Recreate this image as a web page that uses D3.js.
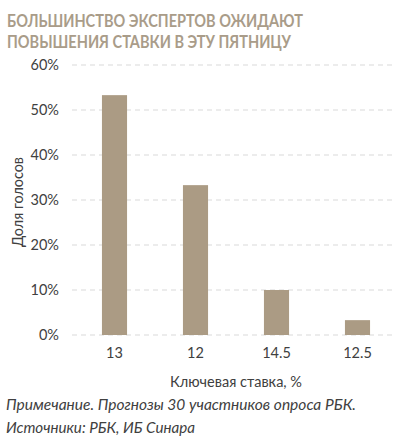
<!DOCTYPE html>
<html><head><meta charset="utf-8">
<script src="https://cdn.jsdelivr.net/npm/d3@7"></script>
<style>body{margin:0;background:#fff}svg{display:block}</style>
</head><body>
<svg id="c" width="394" height="442"></svg>
<script>
const categories = ["13", "12", "14.5", "12.5"];
const values = [53.3, 33.3, 10.0, 3.3];
const yTicks = [0, 10, 20, 30, 40, 50, 60];
const titleLines = ["БОЛЬШИНСТВО ЭКСПЕРТОВ ОЖИДАЮТ", "ПОВЫШЕНИЯ СТАВКИ В ЭТУ ПЯТНИЦУ"];
const notes = ["Примечание. Прогнозы 30 участников опроса РБК.", "Источники: РБК, ИБ Синара"];

const svg = d3.select("#c");
const font = "Lato, 'Open Sans', sans-serif";
const x = d3.scaleBand().domain(categories).range([74, 398]).paddingInner(0.69).paddingOuter(0.345);
const y = d3.scaleLinear().domain([0, 60]).range([335, 65]);

// title
svg.selectAll("text.title").data(titleLines).join("text").attr("class","title")
  .attr("x", 7).attr("y", (d,i)=>27 + i*21)
  .attr("font-family", font).attr("font-weight", 700).attr("font-size", 16.5)
  .attr("fill", "#a99c89")
  .attr("textLength", (d,i)=> i===0 ? 296 : 284).attr("lengthAdjust","spacingAndGlyphs")
  .text(d=>d);

// grid
svg.append("g").selectAll("line").data(yTicks).join("line")
  .attr("x1", 72).attr("x2", 393).attr("y1", d=>y(d)).attr("y2", d=>y(d))
  .attr("stroke", "#d9d9d9").attr("stroke-width", 1).attr("stroke-dasharray", "5,4");

// y axis labels
const yAxis = d3.axisLeft(y).tickValues(yTicks).tickFormat(d=>d+"%").tickSize(0).tickPadding(0);
const gy = svg.append("g").attr("transform","translate(59,0)").call(yAxis);
gy.select(".domain").remove();
gy.selectAll("text").attr("font-family", font).attr("font-size", 14.5).attr("fill", "#404040");

// bars
svg.append("g").selectAll("rect").data(values).join("rect")
  .attr("x", (d,i)=>x(categories[i])).attr("width", x.bandwidth())
  .attr("y", d=>y(d)).attr("height", d=>y(0)-y(d))
  .attr("fill", "#ab9b84");

// x axis
const xAxis = d3.axisBottom(x).tickSize(0).tickPadding(0);
const gx = svg.append("g").attr("transform","translate(0,348)").call(xAxis);
gx.select(".domain").remove();
gx.selectAll("text").attr("font-family", font).attr("font-size", 14.5).attr("fill", "#404040").attr("dy","0.71em");

// axis titles
svg.append("text").attr("x", 236).attr("y", 387).attr("text-anchor","middle")
  .attr("font-family", font).attr("font-size", 14.5).attr("fill", "#404040")
  .attr("textLength", 132).attr("lengthAdjust","spacingAndGlyphs").text("Ключевая ставка, %");
svg.append("text").attr("transform","translate(23,202) rotate(-90)").attr("text-anchor","middle")
  .attr("font-family", font).attr("font-size", 14.5).attr("fill", "#404040")
  .attr("textLength", 90).attr("lengthAdjust","spacingAndGlyphs").text("Доля голосов");

// notes
svg.selectAll("text.note").data(notes).join("text").attr("class","note")
  .attr("x", 6).attr("y", (d,i)=>410 + i*23)
  .attr("font-family", font).attr("font-style","italic").attr("font-size", 15)
  .attr("fill", "#404040")
  .attr("textLength", (d,i)=> i===0 ? 350 : 189).attr("lengthAdjust","spacingAndGlyphs")
  .text(d=>d);
</script>
</body></html>
